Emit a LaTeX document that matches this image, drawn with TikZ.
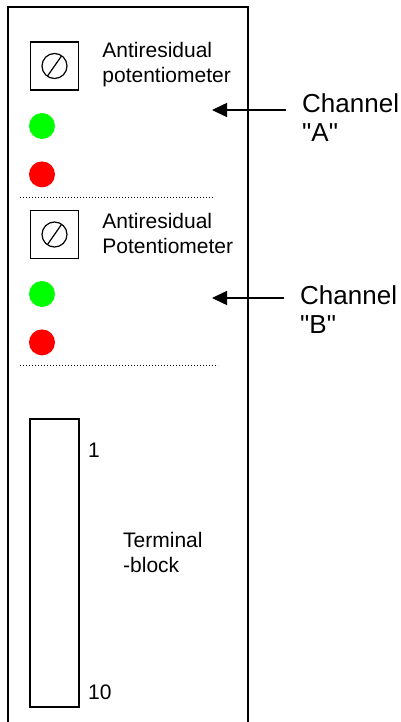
\documentclass[tikz,border=0pt]{standalone}
\usepackage{fontspec}
\setmainfont{Liberation Sans}
\usetikzlibrary{positioning,arrows.meta,calc}
\tikzset{
  panel/.style={x=1pt,y=-1pt,
    >={Triangle[length=15pt,width=14pt]},
    label distance=23pt},
 every label/.style={caption},
 caption/.style={rectangle,inner sep=0pt,align=left,font=\fontsize{21}{25}\selectfont},
 channel/.style={caption,font=\fontsize{26}{29}\selectfont},
 pot/.style={rectangle,draw,line width=1.4pt,minimum size=48pt,inner sep=0pt},
 led/.style={circle,draw=none,minimum size=26pt,inner sep=0pt},
 separator/.style={line width=1pt,dash pattern=on 1pt off 2pt},
 terminal/.style={rectangle,draw,line width=1.4pt,minimum width=49pt,minimum height=288pt,inner sep=0pt},
 feed/.style={->,line width=1.5pt,shorten <=16pt}}

\newcommand{\potsymbol}[1]{%
  \draw[line width=1.2pt] (#1.center) circle (12.5pt);
  \draw[line width=1.2pt] ($(#1.center)+(-7,10)$) -- ($(#1.center)+(7,-10)$);}

\begin{document}
\begin{tikzpicture}[panel]
      \useasboundingbox (0,0) rectangle (401,722);
      % module outline
      \draw[line width=2pt] (8,722) -- (8,7) -- (248,7) -- (248,722);
      % channel A
      \node[pot] (potA) at (54.5,66) [label={[yshift=1pt]right:Antiresidual\\potentiometer}]{};
      \potsymbol{potA}
      \node[led,fill=green] (greenA) at (42,126) {};
      \node[led,fill=red] (redA) [below=22pt of greenA] {};
      \draw[separator] (20,197) -- (213,197);
      % channel B
      \node[pot] (potB) at (54.5,234.5) [label={[yshift=1pt]right:Antiresidual\\Potentiometer}]{};
      \potsymbol{potB}
      \node[led,fill=green] (greenB) at (42,294) {};
      \node[led,fill=red] (redB) [below=22pt of greenB] {};
      \draw[separator] (20,365) -- (218,365);
      % terminal block
      \node[terminal] (tb) at (54.5,563) {};
      \node[caption] (tb1) [anchor=base west] at (88,457) {1};
      \node[caption] (tb10) [anchor=base west] at (88,699) {10};
      \node[caption] (tblabel) [anchor=base west] at (123,572) {Terminal\\-block};
      % channel inputs
      \node[channel] (chA) [anchor=base west] at (302,142) {Channel\\\textquotedbl A\textquotedbl};
      \node[channel] (chB) [anchor=base west] at (300,333) {Channel\\\textquotedbl B\textquotedbl};
      \coordinate (inA) at (212,110);
      \coordinate (inB) at (212,298);
      \draw[feed] (chA.west |- inA) -- (inA);
      \draw[feed] (chB.west |- inB) -- (inB);
    \end{tikzpicture}
\end{document}
